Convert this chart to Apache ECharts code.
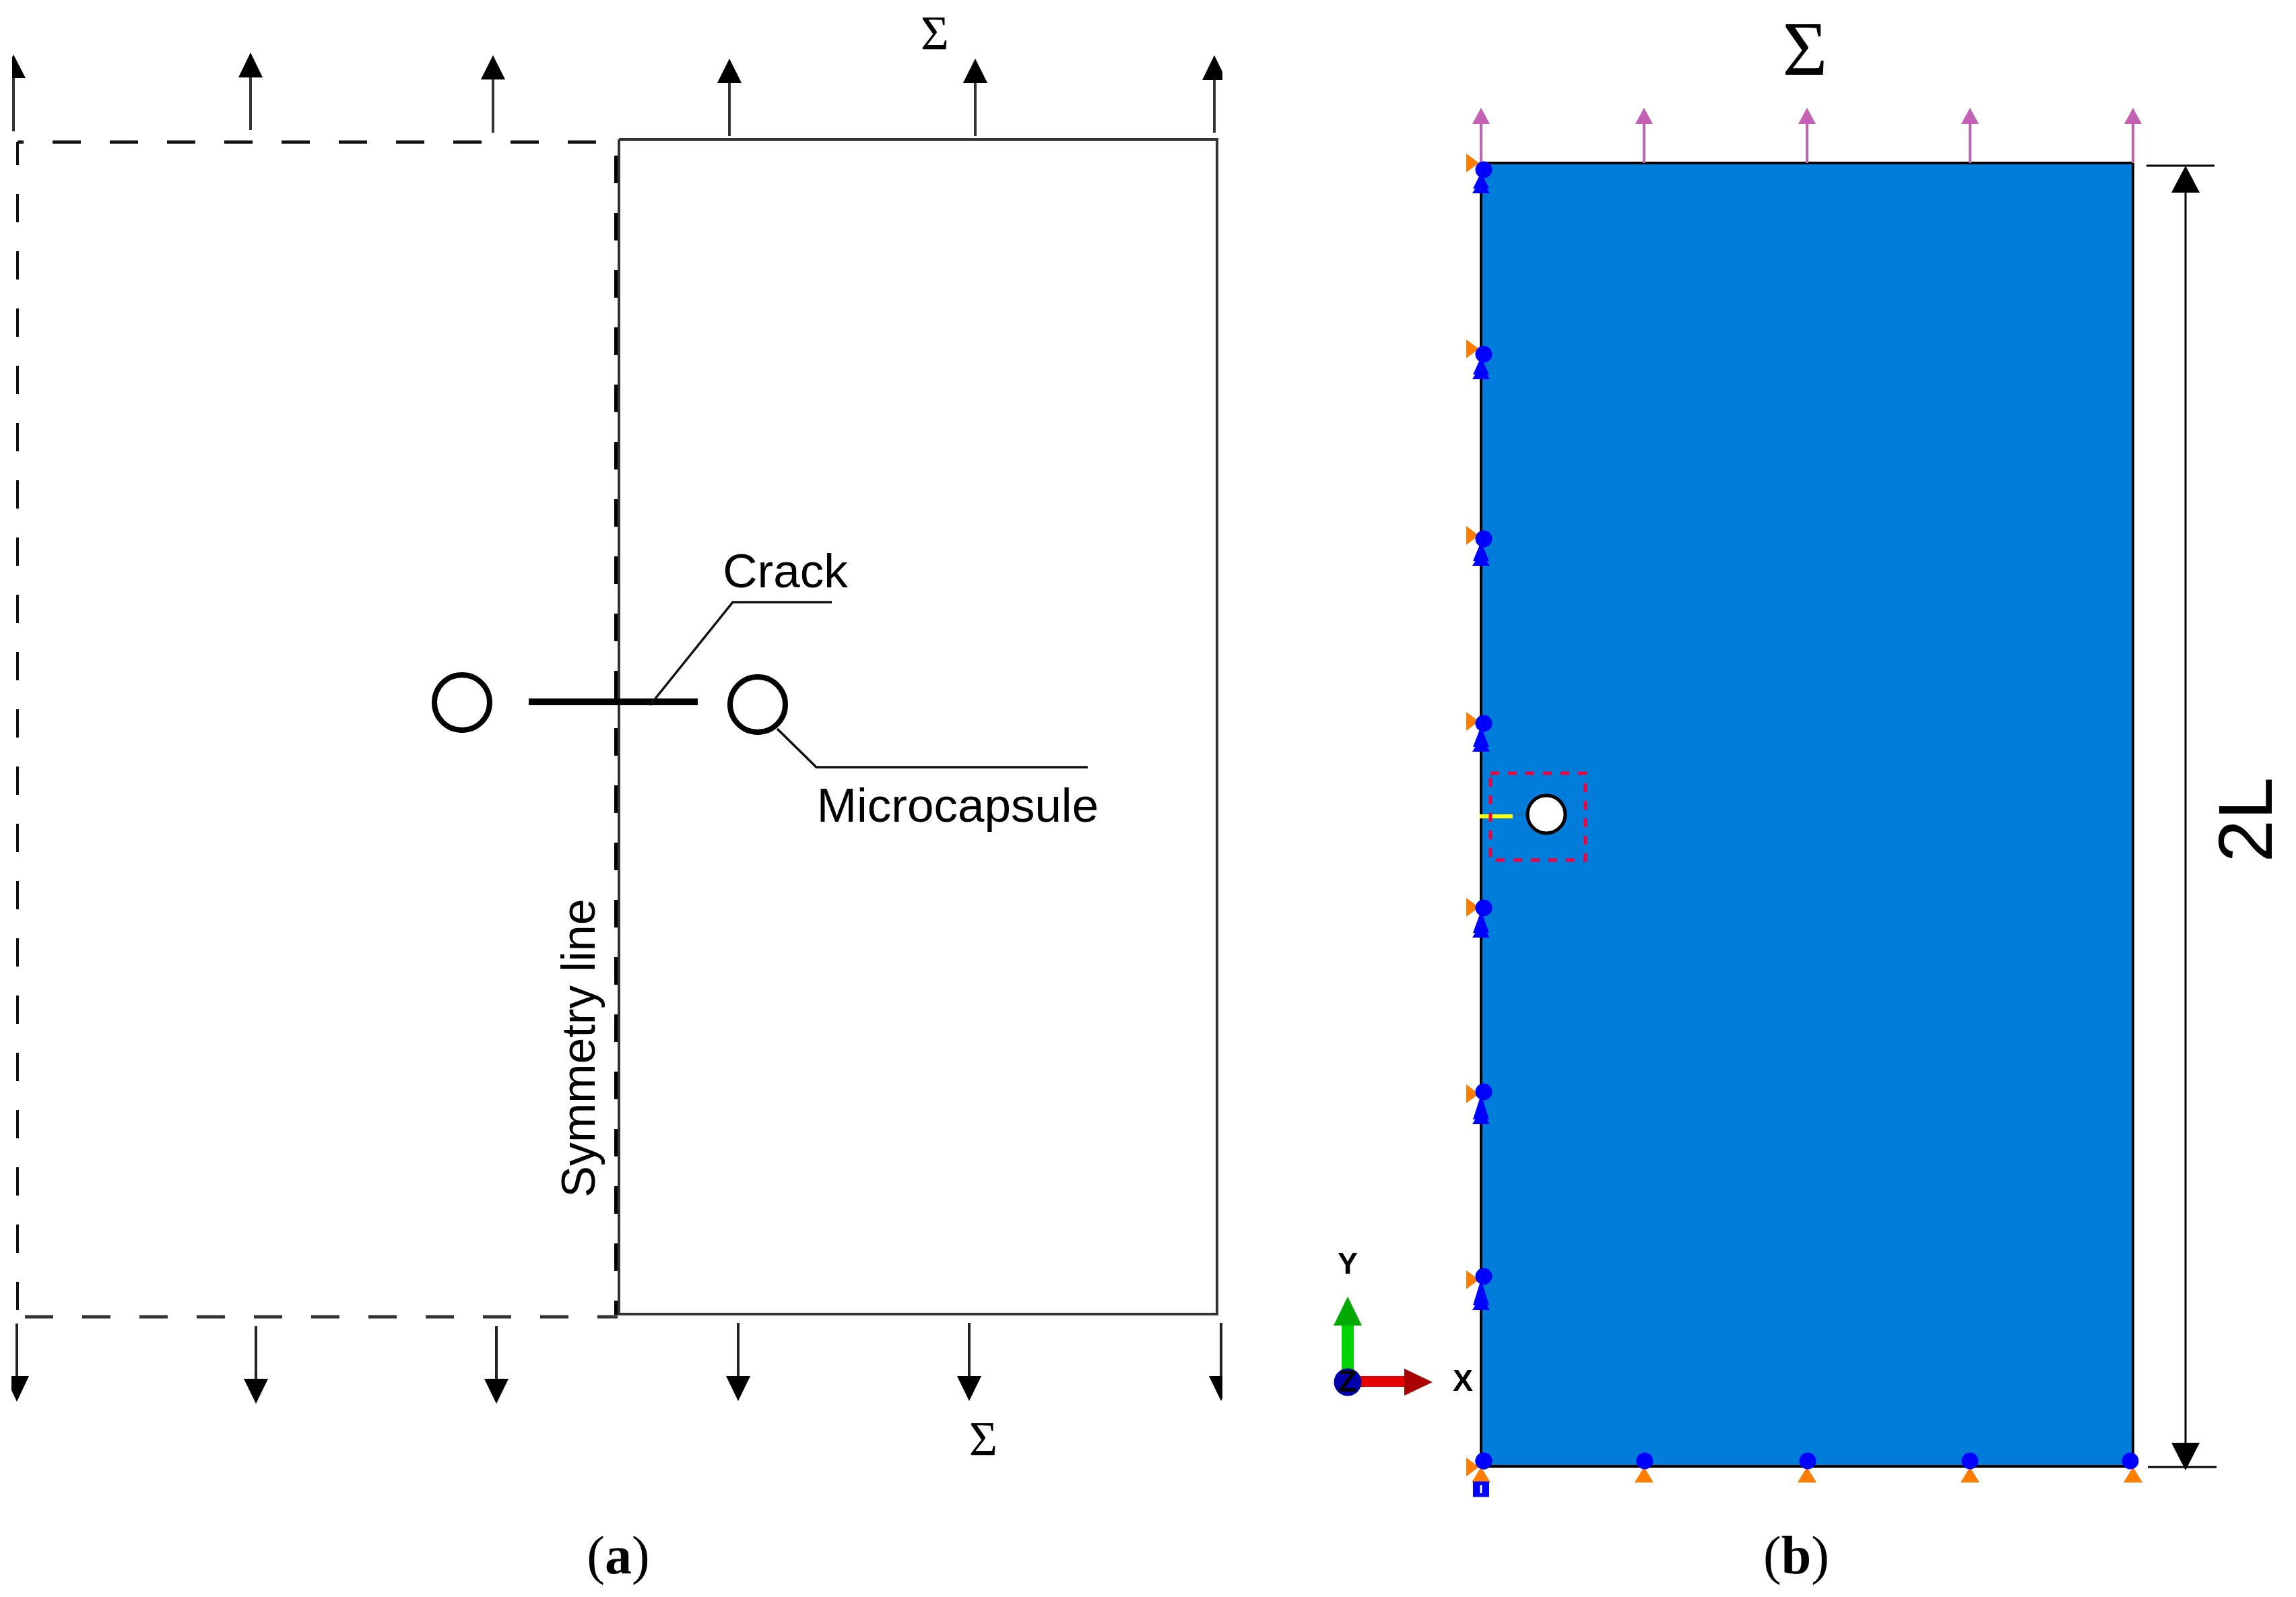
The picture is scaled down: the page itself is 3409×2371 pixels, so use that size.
<!DOCTYPE html>
<html>
<head>
<meta charset="utf-8">
<script src="https://cdn.jsdelivr.net/npm/echarts@6/dist/echarts.min.js"></script>
<style>
html,body{margin:0;padding:0;background:#fff;}
#container{width:3409px;height:2371px;}
</style>
</head>
<body>
<div id="container"></div>
<script>

// panel (a)
var upArrowX = [20, 372, 732, 1083, 1448, 1803];
var upArrowTip = [81, 78, 82, 87, 87, 82];
var upArrowBase = [116, 115, 118, 123, 123, 119];
var upArrowTail = [195, 193, 197, 202, 202, 197];
var downArrowX = [25, 380, 737, 1096, 1439, 1813];
var downArrowTail = [1965, 1969, 1969, 1964, 1964, 1964];
var downArrowBase = [2043, 2047, 2047, 2043, 2043, 2043];
var downArrowTip = [2081, 2084, 2084, 2080, 2080, 2080];
var modelOutlineX = [919, 1807, 1807, 919, 919];
var modelOutlineY = [207, 207, 1951, 1951, 207];
var ghostTopX = [26, 890];
var ghostTopY = [211, 211];
var ghostLeftX = [26, 26];
var ghostLeftY = [211, 1953];
var ghostBottomX = [37, 917];
var ghostBottomY = [1955, 1955];
var symmetryX = [915, 915];
var symmetryY = [231, 1952];
var crackLineX = [785, 1036];
var crackLineY = [1042, 1042];
var crackLeaderX = [965, 1088, 1235];
var crackLeaderY = [1047, 894, 894];
var capsuleLeaderX = [1154, 1212, 1615];
var capsuleLeaderY = [1082, 1139, 1139];
var capsuleX = [686, 1125];
var capsuleY = [1043, 1046];

// panel (b)
var plateX = [2199, 3167, 3167, 2199];
var plateY = [242, 242, 2177, 2177];
var loadX = [2199, 2441, 2683, 2925, 3167];
var loadTip = [160, 160, 160, 160, 160];
var loadBase = [184, 184, 184, 184, 184];
var loadTail = [242, 242, 242, 242, 242];
var sideNodeY = [242, 518, 795, 1071, 1347, 1624, 1900, 2178];
var sideDotY = [252, 526, 800, 1074, 1348, 1621, 1895, 2169];
var bottomNodeX = [2199, 2441, 2683, 2925, 3167];
var bottomDotX = [2203, 2442, 2684, 2925, 3163];
var boxX = [2213, 2354, 2354, 2213, 2213];
var boxY = [1148, 1148, 1277, 1277, 1148];
var holeX = [2296];
var holeY = [1209];
var seedX = [2197, 2246];
var seedY = [1212, 1212];
var seedTailX = [2246, 2268];
var seedTailY = [1209, 1209];
var dimX = [3245, 3245];
var dimY = [286, 2142];
var dimTopTickX = [3187, 3288];
var dimTopTickY = [246, 246];
var dimBottomTickX = [3189, 3291];
var dimBottomTickY = [2178, 2178];
var triadYShaftX = [2001, 2001];
var triadYShaftY = [1968, 2034];
var triadXShaftX = [2020, 2086];
var triadXShaftY = [2051, 2051];
var triadXHeadX = [2085, 2085, 2127];
var triadXHeadY = [2032, 2072, 2052];
var triadOriginX = [2001];
var triadOriginY = [2052];

// text
var sansText = ['Crack', 'Microcapsule'];
var sansTextX = [1166, 1422];
var sansTextY = [852, 1200];
var sumX = [1388, 1460, 2680];
var sumY = [54, 2141, 81];
var panelNames = ['a', 'b'];
var panelNameX = [918, 2667];
var panelNameY = [2315, 2315];

var series = [];
var order = 2;

function zip(xs, ys) {
    return xs.map(function (x, i) { return [x, ys[i]]; });
}

function addLine(name, xs, ys, width, color, dash, offset) {
    series.push({
        name: name, type: 'line', data: zip(xs, ys), symbol: 'none', silent: true, z: order++,
        clip: false,
        lineStyle: {
            width: width, color: color, type: dash || 'solid', dashOffset: offset || 0,
            cap: 'butt', join: 'miter'
        }
    });
}

function addPoly(name, rows, color) {
    series.push({
        name: name, type: 'custom', coordinateSystem: 'cartesian2d', silent: true, z: order++,
        clip: false,
        encode: {x: 0, y: 1},
        data: rows,
        renderItem: function (params, api) {
            var row = rows[params.dataIndex];
            var pts = [];
            for (var i = 0; i < row.length; i += 2) {
                pts.push(api.coord([row[i], row[i + 1]]));
            }
            return {type: 'polygon', shape: {points: pts}, style: {fill: color}};
        }
    });
}

// arrow head seen along y. clipL/clipR cut the ones that run off the edge of panel (a)
function headRows(xs, tips, bases, half, clipL, clipR) {
    return xs.map(function (x, i) {
        var l = Math.max(x - half, clipL), r = Math.min(x + half, clipR);
        var t = tips[i], b = bases[i];
        return [
            x, t,
            r, t + (b - t) * (r - x) / half,
            r, b,
            l, b,
            l, t + (b - t) * (x - l) / half
        ];
    });
}

function addDots(name, xs, ys, size, color, border, borderWidth, symbol) {
    series.push({
        name: name, type: 'scatter', data: zip(xs, ys), symbol: symbol || 'circle', symbolSize: size,
        silent: true, z: order++, clip: false,
        itemStyle: {color: color, borderColor: border || color, borderWidth: borderWidth || 0, opacity: 1}
    });
}

function addText(name, xs, ys, texts, label) {
    series.push({
        name: name, type: 'scatter', symbolSize: 1, silent: true, z: order++, clip: false,
        itemStyle: {color: 'rgba(0,0,0,0)', opacity: 1},
        data: xs.map(function (x, i) { return {value: [x, ys[i]], text: texts[i]}; }),
        label: Object.assign({
            show: true, position: 'inside', align: 'center', verticalAlign: 'middle', color: '#000',
            formatter: function (p) { return p.data.text; }
        }, label)
    });
}

// ---- panel (a)
addLine('ghost top', ghostTopX, ghostTopY, 5, '#111', [42, 43], 33);
addLine('ghost left', ghostLeftX, ghostLeftY, 4, '#111', [42, 43], 8);
addLine('ghost bottom', ghostBottomX, ghostBottomY, 5, '#333', [42, 43]);
addLine('symmetry', symmetryX, symmetryY, 6, '#000', [41, 44]);
addLine('model', modelOutlineX, modelOutlineY, 4, '#333');
addLine('crack', crackLineX, crackLineY, 10, '#000');
addLine('crack leader', crackLeaderX, crackLeaderY, 3.5, '#111');
addLine('capsule leader', capsuleLeaderX, capsuleLeaderY, 3.5, '#111');
addDots('capsules', capsuleX, capsuleY, 82, '#fff', '#000', 8);
upArrowX.forEach(function (x, i) {
    addLine('up shaft', [x, x], [upArrowBase[i], upArrowTail[i]], 4, '#333');
});
downArrowX.forEach(function (x, i) {
    addLine('down shaft', [x, x], [downArrowTail[i], downArrowBase[i]], 4, '#222');
});
addPoly('up heads', headRows(upArrowX, upArrowTip, upArrowBase, 18, 18, 1815), '#000');
addPoly('down heads', headRows(downArrowX, downArrowTip, downArrowBase, 18, 17, 1815), '#000');

// ---- panel (b)
addPoly('plate', [[plateX[0], plateY[0], plateX[1], plateY[1], plateX[2], plateY[2], plateX[3], plateY[3]]], '#007cdb');
addLine('plate edge', plateX.concat(plateX[0]), plateY.concat(plateY[0]), 4, '#000');
addLine('seed tail', seedTailX, seedTailY, 3, '#1670b8');
addLine('seed', seedX, seedY, 6, '#ffff00');
addDots('hole', holeX, holeY, 56, '#fff', '#000', 5);
addLine('box', boxX, boxY, 5, '#f5003a', [13, 13]);
loadX.forEach(function (x, i) {
    addLine('load shaft', [x, x], [loadBase[i], loadTail[i]], 4, '#c561b4');
});
addPoly('load heads', headRows(loadX, loadTip, loadBase, 13, 0, 3409), '#c561b4');

// boundary condition glyphs
var sideInner = sideNodeY.slice(0, 7);
var sideX = sideInner.map(function () { return plateX[0]; });
addPoly('side cones', sideNodeY.map(function (y) {
    return [2177, y - 14, 2177, y + 14, 2196, y];
}), '#ff7d00');
addPoly('side blue', headRows(sideX, sideDotY.slice(0, 7).map(function (y) { return y + 4; }),
    sideInner.map(function (y) { return y + 38; }), 12, 0, 3409), '#0000ff');
addPoly('side blue feet', headRows(sideX, sideInner.map(function (y) { return y + 24; }),
    sideInner.map(function (y) { return y + 45; }), 13, 0, 3409), '#0000ff');
addPoly('bottom cones', headRows(bottomNodeX, bottomNodeX.map(function () { return 2178; }),
    bottomNodeX.map(function () { return 2201; }), 14, 0, 3409), '#ff7d00');
addDots('corner foot', [plateX[0]], [2211], [24, 23], '#0000ff', null, 0, 'rect');
addDots('corner slit', [plateX[0]], [2211], [3, 12], '#fff', null, 0, 'rect');
addDots('side dots', sideX.concat(plateX[0]).map(function () { return 2203; }), sideDotY, 25, '#0000ff');
addDots('bottom dots', bottomDotX, bottomDotX.map(function () { return 2169; }), 25, '#0000ff');

// dimension
addLine('dim', dimX, dimY, 3, '#000');
addLine('dim top', dimTopTickX, dimTopTickY, 3, '#000');
addLine('dim bottom', dimBottomTickX, dimBottomTickY, 3, '#000');
addPoly('dim heads', headRows([3245, 3245], [246, 2183], [286, 2142], 21, 0, 3409), '#000');

// triad
addLine('triad y', triadYShaftX, triadYShaftY, 18, '#00d400');
addPoly('triad y head', headRows([triadYShaftX[0]], [1925], [1968], 21, 0, 3409), '#00aa00');
addLine('triad x', triadXShaftX, triadXShaftY, 16, '#e60000');
addPoly('triad x head', [[triadXHeadX[0], triadXHeadY[0], triadXHeadX[1], triadXHeadY[1], triadXHeadX[2], triadXHeadY[2]]], '#aa0000');
addDots('triad origin', triadOriginX, triadOriginY, 41, '#0000aa');

// ---- text
addText('sans text', sansTextX, sansTextY, sansText, {fontFamily: 'Liberation Sans', fontSize: 71});
addText('symmetry text', [864], [1556], ['Symmetry line'], {fontFamily: 'Liberation Sans', fontSize: 70, rotate: 90});
addText('2L', [3342], [1217], ['2L'], {fontFamily: 'Liberation Sans', fontSize: 114, rotate: 90});
addText('sigma small', sumX.slice(0, 2), sumY.slice(0, 2), ['Σ', 'Σ'], {fontFamily: 'Liberation Serif', fontSize: 72});
addText('sigma big', sumX.slice(2), sumY.slice(2), ['Σ'], {fontFamily: 'Liberation Serif', fontSize: 115});
addText('triad letters', [2001, 2172, 2001], [1879, 2053, 2054], ['Y', 'X', 'Z'], {
    fontFamily: 'Liberation Sans', fontWeight: 'bold', fontSize: 45
});
addText('panel names', panelNameX, panelNameY, panelNames, {
    formatter: function (p) { return '{p|(}{b|' + p.data.text + '}{p|)}'; },
    rich: {
        p: {fontFamily: 'Liberation Serif', fontSize: 80, color: '#000'},
        b: {fontFamily: 'Liberation Serif', fontWeight: 'bold', fontSize: 80, color: '#000'}
    }
});

var myChart = echarts.init(document.getElementById('container'), null, {renderer: 'canvas'});
myChart.setOption({
    animation: false,
    backgroundColor: '#fff',
    tooltip: {show: false},
    grid: {left: 0, right: 0, top: 0, bottom: 0},
    xAxis: {type: 'value', min: 0, max: 3409, show: false},
    yAxis: {type: 'value', min: 0, max: 2371, inverse: true, show: false},
    series: series
});
</script>
</body>
</html>
